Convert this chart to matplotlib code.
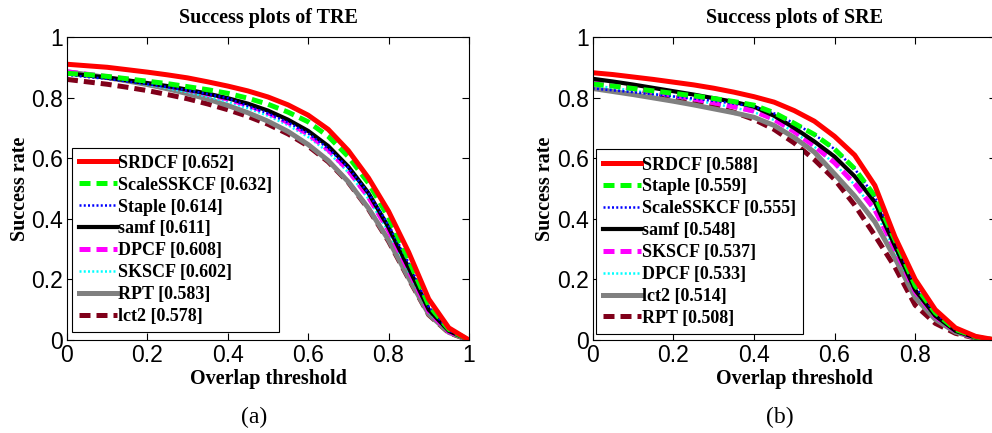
import numpy as np
import matplotlib
matplotlib.use("Agg")
import matplotlib.pyplot as plt

# overlap thresholds
thresholds = np.linspace(0, 1, 21)

# --- TRE (a) ---
tre_names = ["SRDCF", "ScaleSSKCF", "Staple", "samf", "DPCF", "SKSCF", "RPT", "lct2"]
tre_auc = [0.652, 0.632, 0.614, 0.611, 0.608, 0.602, 0.583, 0.578]
tre_srdcf = [0.910, 0.905, 0.900, 0.892, 0.884, 0.875, 0.865, 0.852, 0.838, 0.822, 0.802,
             0.776, 0.742, 0.695, 0.625, 0.535, 0.425, 0.290, 0.135, 0.040, 0.0]
tre_scalesskcf = [0.880, 0.876, 0.870, 0.862, 0.854, 0.846, 0.836, 0.826, 0.814, 0.798, 0.778,
                  0.752, 0.720, 0.672, 0.605, 0.518, 0.405, 0.265, 0.115, 0.035, 0.0]
tre_staple = [0.875, 0.868, 0.862, 0.853, 0.845, 0.835, 0.824, 0.812, 0.798, 0.772, 0.748,
              0.718, 0.682, 0.632, 0.568, 0.485, 0.380, 0.255, 0.110, 0.032, 0.0]
tre_samf = [0.880, 0.873, 0.866, 0.857, 0.848, 0.838, 0.826, 0.813, 0.798, 0.780, 0.757,
            0.727, 0.690, 0.640, 0.572, 0.485, 0.372, 0.238, 0.100, 0.030, 0.0]
tre_dpcf = [0.885, 0.877, 0.869, 0.860, 0.850, 0.839, 0.826, 0.812, 0.795, 0.775, 0.750,
            0.718, 0.680, 0.628, 0.560, 0.472, 0.362, 0.230, 0.095, 0.028, 0.0]
tre_skscf = [0.880, 0.872, 0.864, 0.854, 0.843, 0.831, 0.818, 0.803, 0.786, 0.765, 0.740,
             0.709, 0.670, 0.620, 0.553, 0.466, 0.357, 0.226, 0.093, 0.027, 0.0]
tre_rpt = [0.885, 0.876, 0.866, 0.855, 0.843, 0.829, 0.813, 0.795, 0.774, 0.750, 0.722,
           0.688, 0.645, 0.592, 0.522, 0.435, 0.330, 0.205, 0.085, 0.025, 0.0]
tre_lct2 = [0.860, 0.852, 0.844, 0.834, 0.823, 0.810, 0.796, 0.779, 0.760, 0.738, 0.712,
            0.680, 0.640, 0.588, 0.520, 0.432, 0.326, 0.202, 0.083, 0.024, 0.0]
tre_curves = [tre_srdcf, tre_scalesskcf, tre_staple, tre_samf, tre_dpcf, tre_skscf, tre_rpt, tre_lct2]

# --- SRE (b) ---
sre_names = ["SRDCF", "Staple", "ScaleSSKCF", "samf", "SKSCF", "DPCF", "lct2", "RPT"]
sre_auc = [0.588, 0.559, 0.555, 0.548, 0.537, 0.533, 0.514, 0.508]
sre_srdcf = [0.882, 0.876, 0.868, 0.860, 0.851, 0.842, 0.831, 0.818, 0.803, 0.785, 0.757,
             0.722, 0.672, 0.610, 0.510, 0.340, 0.200, 0.100, 0.040, 0.012, 0.0]
sre_staple = [0.845, 0.838, 0.830, 0.822, 0.814, 0.806, 0.797, 0.787, 0.775, 0.750, 0.715,
              0.678, 0.630, 0.565, 0.475, 0.330, 0.180, 0.090, 0.035, 0.010, 0.0]
sre_scalesskcf = [0.830, 0.824, 0.818, 0.811, 0.804, 0.797, 0.789, 0.780, 0.770, 0.748, 0.715,
                  0.678, 0.630, 0.565, 0.473, 0.328, 0.178, 0.088, 0.034, 0.010, 0.0]
sre_samf = [0.862, 0.853, 0.843, 0.832, 0.821, 0.810, 0.798, 0.786, 0.770, 0.740, 0.700,
            0.655, 0.605, 0.540, 0.455, 0.310, 0.165, 0.080, 0.030, 0.008, 0.0]
sre_skscf = [0.850, 0.840, 0.830, 0.819, 0.808, 0.796, 0.783, 0.770, 0.755, 0.728, 0.688,
             0.640, 0.585, 0.515, 0.430, 0.300, 0.160, 0.078, 0.030, 0.008, 0.0]
sre_dpcf = [0.840, 0.832, 0.823, 0.813, 0.803, 0.792, 0.780, 0.767, 0.752, 0.726, 0.686,
            0.638, 0.582, 0.512, 0.426, 0.296, 0.158, 0.076, 0.029, 0.008, 0.0]
sre_lct2 = [0.830, 0.820, 0.810, 0.799, 0.788, 0.776, 0.763, 0.750, 0.735, 0.708, 0.668,
            0.620, 0.548, 0.475, 0.390, 0.270, 0.140, 0.068, 0.026, 0.007, 0.0]
sre_rpt = [0.855, 0.843, 0.830, 0.816, 0.801, 0.786, 0.770, 0.752, 0.728, 0.695, 0.650,
           0.595, 0.530, 0.445, 0.345, 0.240, 0.115, 0.055, 0.022, 0.006, 0.0]
sre_curves = [sre_srdcf, sre_staple, sre_scalesskcf, sre_samf, sre_skscf, sre_dpcf, sre_lct2, sre_rpt]

tick_vals = [0, 0.2, 0.4, 0.6, 0.8, 1]
tick_text = ["0", "0.2", "0.4", "0.6", "0.8", "1"]

# styles by rank (same in both panels)
rank_styles = [
    dict(color=(1, 0, 0), lw=3.6, ls="-"),
    dict(color=(0, 1, 0), lw=3.6, ls=(0, (2.2, 1.2))),
    dict(color=(0, 0, 1), lw=1.8, ls=(0, (0.8, 0.9))),
    dict(color=(0, 0, 0), lw=3.0, ls="-"),
    dict(color=(1, 0, 1), lw=3.6, ls=(0, (2.2, 1.2))),
    dict(color=(0, 1, 1), lw=1.8, ls=(0, (0.8, 0.9))),
    dict(color=(0.5, 0.5, 0.5), lw=3.6, ls="-"),
    dict(color=(0.5, 0.0, 0.1), lw=3.6, ls=(0, (2.2, 1.2))),
]

serif = "Liberation Serif"
sans = "Liberation Sans"

fig = plt.figure(figsize=(9.92, 4.33), dpi=100)
ax_a = fig.add_axes([0.0675, 0.2148, 0.4052, 0.6998])
ax_b = fig.add_axes([0.5975, 0.2148, 0.4063, 0.6998])

panels = [
    (ax_a, "Success plots of TRE", tre_names, tre_auc, tre_curves, (0.012, 0.026), "(a)"),
    (ax_b, "Success plots of SRE", sre_names, sre_auc, sre_curves, (0.008, 0.020), "(b)"),
]

for ax, title, names, aucs, curves, anchor, tag in panels:
    # draw lowest-ranked first so the best stays on top
    handles = []
    for i in range(len(names) - 1, -1, -1):
        st = rank_styles[i]
        h, = ax.plot(thresholds, curves[i], color=st["color"], lw=st["lw"], ls=st["ls"],
                     label="%s [%.3f]" % (names[i], aucs[i]))
        handles.insert(0, h)
    ax.set_xlim(0, 1)
    ax.set_ylim(0, 1)
    ax.set_xticks(tick_vals)
    ax.set_yticks(tick_vals)
    ax.set_xticklabels(tick_text)
    ax.set_yticklabels(tick_text)
    ax.tick_params(direction="in", length=5, width=0.8, top=True, right=True,
                   labelsize=16.5, pad=3)
    for lab in ax.get_xticklabels() + ax.get_yticklabels():
        lab.set_fontfamily(sans)
    for sp in ax.spines.values():
        sp.set_linewidth(0.8)
    ax.set_title(title, fontfamily=serif, fontweight="bold", fontsize=14.5, pad=10)
    ax.set_xlabel("Overlap threshold", fontfamily=serif, fontweight="bold", fontsize=14.5,
                  labelpad=1)
    ax.set_ylabel("Success rate", fontfamily=serif, fontweight="bold", fontsize=14.5,
                  labelpad=1)
    leg = ax.legend(handles=handles, loc="lower left", bbox_to_anchor=anchor,
                    borderaxespad=0, frameon=True, fancybox=False, framealpha=1,
                    edgecolor="black", handlelength=2.1, handletextpad=0.05,
                    labelspacing=0.27, borderpad=0.4,
                    prop=dict(family=serif, weight="bold", size=13))
    leg.get_frame().set_linewidth(0.8)
    ax.text(0.465, -0.255, tag, transform=ax.transAxes, ha="center", va="center",
            fontfamily=serif, fontsize=17)

# the right panel runs past the page edge, so its "1" label is not shown
ax_b.set_xticklabels(tick_text[:-1] + [""])

fig.savefig("out.png", dpi=100)
